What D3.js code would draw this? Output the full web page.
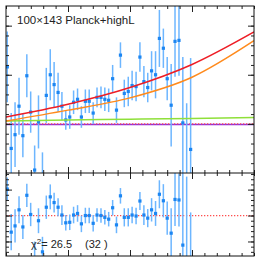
<!DOCTYPE html>
<html>
<head>
<meta charset="utf-8">
<script src="https://cdn.jsdelivr.net/npm/d3@7"></script>
<style>
  body { margin: 0; background: #fff; }
  svg { display: block; }
</style>
</head>
<body>
<div id="container"></div>
<script>
/* CONSTANTS AND GLOBALS */
const width = 262,
  height = 264,
  frame = { left: 6, right: 254, top: 6, mid: 173, bottom: 256 };

/* DATA */
const ell = [10, 42, 73, 105, 136, 168, 199, 231, 262, 294, 325, 357, 388, 420, 451, 482,
  514, 545, 577, 608, 640, 671, 703, 734, 766, 797, 828, 860, 891, 923, 954, 986,
  1017, 1049, 1080, 1112, 1143, 1174, 1206, 1237, 1269, 1300, 1332, 1363, 1395, 1426, 1457, 1489];

const topVal = [5.8, -2.5, -1.1, 1.8, -1.2, 4.9, 1.2, -4.7, 0.2, -5.3, 2.9, 5.0, 4.0, 3.2, 1.8, 0.4,
  0.7, 2.2, 2.5, 0.7, 2.3, 2.3, 1.1, 2.7, 2.7, 2.5, 2.4, 4.6, 1.4, 7.0, 3.1, 3.3,
  3.9, 3.8, 6.8, 4.3, 3.7, 5.4, 5.0, 8.7, 7.7, 4.6, 1.9, 8.4, 8.5, 0.1, -5.2, -2.6];
const topErr = [3.6, 3.6, 3.3, 2.9, 2.2, 2.2, 2.1, 2.5, 2.7, 2.4, 2.8, 2.6, 2.3, 2.0, 1.45, 1.0,
  1.2, 1.2, 1.1, 1.1, 1.2, 1.2, 1.1, 1.0, 1.1, 1.2, 1.2, 1.4, 1.3, 1.3, 1.4, 1.5,
  1.5, 1.5, 1.5, 1.6, 1.5, 2.0, 2.4, 2.9, 2.0, 2.2, 4.2, 3.6, 3.6, 6.7, 7.3, 9.3];

const resVal = [5.1, -3.2, -2.0, 1.1, -2.2, 3.9, 0.2, -9.5, -1.0, -7.0, 1.6, 3.6, 2.5, 1.6, 0.1, -1.4,
  -1.3, 0.1, 0.4, -1.6, 0.0, 0.0, -1.5, 0.1, 0.0, -0.35, -0.7, 1.5, -1.8, 3.8, -0.35, -0.35,
  0.1, -0.1, 2.8, 0.1, -0.5, 1.1, 0.4, 4.1, 2.85, -0.5, -3.4, 3.1, 3.0, -5.7, -10, -9];
const resErr = [2.25, 3.5, 3.2, 2.6, 2.3, 2.25, 2.25, 4.5, 2.4, 2.9, 2.25, 2.4, 1.9, 1.75, 1.9, 1.5,
  1.5, 1.6, 1.6, 1.6, 1.5, 1.5, 1.6, 1.3, 1.4, 1.4, 1.4, 1.5, 1.6, 1.5, 1.75, 1.75,
  1.6, 1.6, 1.75, 1.9, 1.75, 2.25, 2.4, 2.7, 3.2, 3.2, 4.8, 5.1, 5.1, 14, 17.5, 9.6];

// model curves
const modelEll = [0, 500, 1000, 1500, 2000];
const redModel = [0.70, 2.0, 3.7, 6.05, 9.36];
const orangeModel = [0.29, 1.4, 2.65, 4.75, 8.47];
const greenModel = [0.29, 0.40, 0.47, 0.56, 0.65];
const purpleModel = [-0.06, -0.06, -0.06, -0.06, -0.06];

const label = "100\u00d7143 Planck+highL";
const chi2 = "26.5", dof = "32";

/* SCALES */
const xScale = d3.scaleLinear().domain([0, 2000]).range([frame.left, frame.right]);
const yTop = d3.scaleLinear().domain([-5, 12]).range([frame.mid, frame.top]);
const yRes = d3.scaleLinear().domain([-7.8, 8.2]).range([frame.bottom, frame.mid]);

/* SVG */
const svg = d3.select("#container")
  .append("svg")
  .attr("width", width)
  .attr("height", height)
  .style("background-color", "white");

const defs = svg.append("defs");
defs.append("clipPath").attr("id", "clipTop")
  .append("rect")
  .attr("x", frame.left).attr("y", frame.top)
  .attr("width", frame.right - frame.left).attr("height", frame.mid - frame.top);
defs.append("clipPath").attr("id", "clipRes")
  .append("rect")
  .attr("x", frame.left).attr("y", frame.mid)
  .attr("width", frame.right - frame.left).attr("height", frame.bottom - frame.mid);

const data = ell.map((l, i) => ({ l, v: topVal[i], e: topErr[i], r: resVal[i], re: resErr[i] }));

function drawPanel(g, yScale, valKey, errKey) {
  // zero line
  g.append("line")
    .attr("x1", frame.left).attr("x2", frame.right)
    .attr("y1", yScale(0)).attr("y2", yScale(0))
    .attr("stroke", "#ff4d4d")
    .attr("stroke-width", 1.3)
    .attr("stroke-dasharray", "1.3,1.7");

  g.selectAll(".err")
    .data(data)
    .join("line")
    .attr("class", "err")
    .attr("x1", d => xScale(d.l)).attr("x2", d => xScale(d.l))
    .attr("y1", d => yScale(d[valKey] - d[errKey]))
    .attr("y2", d => yScale(d[valKey] + d[errKey]))
    .attr("stroke", "#6db6ff")
    .attr("stroke-width", 1.5);

  g.selectAll(".pt")
    .data(data)
    .join("rect")
    .attr("class", "pt")
    .attr("x", d => xScale(d.l) - 1.6)
    .attr("y", d => yScale(d[valKey]) - 1.6)
    .attr("width", 3.2).attr("height", 3.2)
    .attr("fill", "#1c86f2");
}

// TOP PANEL
const gTop = svg.append("g").attr("clip-path", "url(#clipTop)");

const line = d3.line()
  .x((d, i) => xScale(modelEll[i]))
  .y(d => yTop(d))
  .curve(d3.curveMonotoneX);

gTop.append("path").datum(purpleModel).attr("d", line)
  .attr("fill", "none").attr("stroke", "#8f2fe0").attr("stroke-width", 1.5);

drawPanel(gTop, yTop, "v", "e");

gTop.append("path").datum(greenModel).attr("d", line)
  .attr("fill", "none").attr("stroke", "#8fe03a").attr("stroke-width", 1.5);
gTop.append("path").datum(orangeModel).attr("d", line)
  .attr("fill", "none").attr("stroke", "#ff8a1c").attr("stroke-width", 1.5);
gTop.append("path").datum(redModel).attr("d", line)
  .attr("fill", "none").attr("stroke", "#ee1d25").attr("stroke-width", 1.5);

// RESIDUAL PANEL
const gRes = svg.append("g").attr("clip-path", "url(#clipRes)");
drawPanel(gRes, yRes, "r", "re");

/* AXES (inward ticks, no labels) */
const xMinor = d3.range(0, 2001, 100);
const xMajor = [500, 1000, 1500];

function addAxis(axisFn, scale, values, size, transform) {
  svg.append("g")
    .attr("transform", transform)
    .call(axisFn(scale).tickValues(values).tickSize(size).tickFormat(""))
    .call(g => g.select(".domain").remove())
    .call(g => g.selectAll("line").attr("stroke", "#222"));
}

// x ticks
addAxis(d3.axisBottom, xScale, xMinor, 3, `translate(0,${frame.top})`);
addAxis(d3.axisBottom, xScale, xMajor, 6, `translate(0,${frame.top})`);
addAxis(d3.axisTop, xScale, xMinor, 3, `translate(0,${frame.mid})`);
addAxis(d3.axisTop, xScale, xMajor, 6, `translate(0,${frame.mid})`);
addAxis(d3.axisBottom, xScale, xMinor, 3, `translate(0,${frame.mid})`);
addAxis(d3.axisBottom, xScale, xMajor, 6, `translate(0,${frame.mid})`);
addAxis(d3.axisTop, xScale, xMinor, 3, `translate(0,${frame.bottom})`);
addAxis(d3.axisTop, xScale, xMajor, 6, `translate(0,${frame.bottom})`);

// y ticks top panel
const yTopMinor = d3.range(-4, 12, 1);
const yTopMajor = [0, 5, 10];
addAxis(d3.axisRight, yTop, yTopMinor, 3, `translate(${frame.left},0)`);
addAxis(d3.axisRight, yTop, yTopMajor, 6, `translate(${frame.left},0)`);
addAxis(d3.axisLeft, yTop, yTopMinor, 3, `translate(${frame.right},0)`);
addAxis(d3.axisLeft, yTop, yTopMajor, 6, `translate(${frame.right},0)`);

// y ticks residual panel
const yResMinor = d3.range(-7, 9, 1);
const yResMajor = [-5, 0, 5];
addAxis(d3.axisRight, yRes, yResMinor, 3, `translate(${frame.left},0)`);
addAxis(d3.axisRight, yRes, yResMajor, 6, `translate(${frame.left},0)`);
addAxis(d3.axisLeft, yRes, yResMinor, 3, `translate(${frame.right},0)`);
addAxis(d3.axisLeft, yRes, yResMajor, 6, `translate(${frame.right},0)`);

// FRAMES
svg.append("rect")
  .attr("x", frame.left).attr("y", frame.top)
  .attr("width", frame.right - frame.left).attr("height", frame.bottom - frame.top)
  .attr("fill", "none").attr("stroke", "#111").attr("stroke-width", 1);
svg.append("line")
  .attr("x1", frame.left).attr("x2", frame.right)
  .attr("y1", frame.mid).attr("y2", frame.mid)
  .attr("stroke", "#111").attr("stroke-width", 1);

/* TEXT */
svg.append("text")
  .attr("x", 17).attr("y", 23.5)
  .attr("font-family", "Liberation Sans, Arial, sans-serif")
  .attr("font-size", 11.5)
  .attr("fill", "#222")
  .text(label);

const chiText = svg.append("text")
  .attr("x", 31).attr("y", 248)
  .attr("font-family", "Liberation Sans, Arial, sans-serif")
  .attr("font-size", 11)
  .attr("fill", "#222");
chiText.append("tspan").text("\u03c7");
chiText.append("tspan").attr("dy", -4).attr("font-size", 8).text("2");
chiText.append("tspan").attr("dy", 4).text("= " + chi2);
chiText.append("tspan").attr("x", 85).text("(" + dof + " )");
</script>
</body>
</html>
